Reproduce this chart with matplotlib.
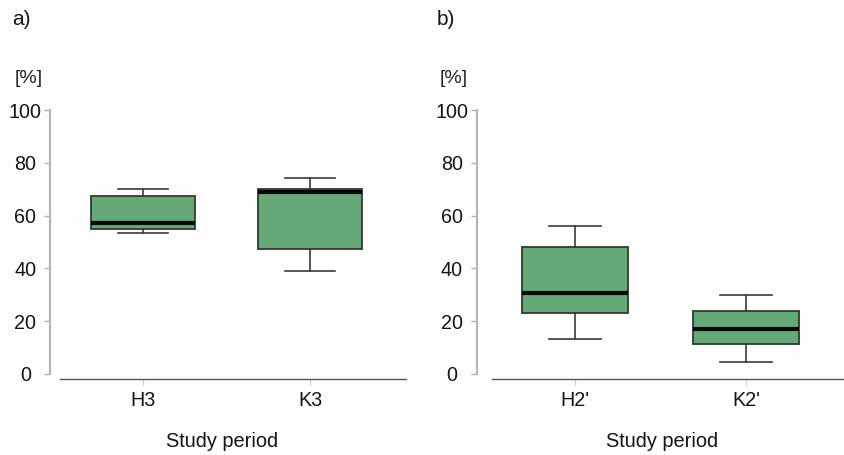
import matplotlib
matplotlib.use("Agg")
import matplotlib.pyplot as plt

plt.rcParams["font.family"] = ["Liberation Sans", "DejaVu Sans"]

# five-number summaries per study period: lower whisker, Q1, median, Q3, upper whisker
labels_a = ["H3", "K3"]
whislo_a = [53.3, 39.2]
q1_a = [54.9, 47.4]
med_a = [57.2, 69.0]
q3_a = [67.5, 70.2]
whishi_a = [70.2, 74.4]

labels_b = ["H2'", "K2'"]
whislo_b = [13.1, 4.6]
q1_b = [23.2, 11.2]
med_b = [30.6, 17.0]
q3_b = [48.2, 23.9]
whishi_b = [55.9, 30.0]

W, H = 845, 455
fig = plt.figure(figsize=(W / 100, H / 100), dpi=100)
fig.patch.set_facecolor("#fdfdfd")

box_fill = "#66a878"
edge = "#2f3a33"
txt = "#151515"


def panel(rect, xlim, xspine, labels, lo, q1, med, q3, hi, letter, letter_x, unit_x, title_x):
    ax = fig.add_axes(rect)
    ax.set_facecolor("#fdfdfd")
    stats = []
    for i in range(len(labels)):
        stats.append(dict(label=labels[i], whislo=lo[i], q1=q1[i], med=med[i],
                          q3=q3[i], whishi=hi[i], fliers=[]))
    ax.bxp(stats, positions=[1, 2], widths=0.62, patch_artist=True,
           showfliers=False,
           boxprops=dict(facecolor=box_fill, edgecolor=edge, linewidth=1.3),
           medianprops=dict(color="#050a06", linewidth=3),
           whiskerprops=dict(color="#3a3a3a", linewidth=1.2),
           capprops=dict(color="#3a3a3a", linewidth=1.2),
           capwidths=0.3)
    ax.set_xlim(*xlim)
    ax.set_ylim(-1.9, 100.5)
    for s in ["top", "right"]:
        ax.spines[s].set_visible(False)
    ax.spines["left"].set_bounds(0, 100)
    ax.spines["left"].set_color("#b4b4b4")
    ax.spines["left"].set_linewidth(1.5)
    ax.spines["bottom"].set_bounds(*xspine)
    ax.spines["bottom"].set_color("#555555")
    ax.spines["bottom"].set_linewidth(1.0)
    ax.set_yticks([0, 20, 40, 60, 80, 100])
    # y labels are centred under one another, not right-aligned
    ax.tick_params(axis="y", length=4, width=1, color="#b4b4b4", pad=13.8,
                   labelsize=14.2, labelcolor=txt)
    for lbl in ax.get_yticklabels():
        lbl.set_horizontalalignment("center")
    ax.tick_params(axis="x", length=4, width=0.8, color="#d0d0d0", pad=5,
                   labelsize=14.2, labelcolor=txt)
    fig.text(letter_x / W, 1 - 25 / H, letter, fontsize=15, va="baseline",
             ha="left", color=txt)
    fig.text(unit_x / W, 1 - 83 / H, "[%]", fontsize=14, va="baseline",
             ha="left", color="#222222")
    fig.text(title_x / W, 1 - 447 / H, "Study period", fontsize=14.4,
             va="baseline", ha="center", color=txt)
    return ax


# left panel: y spine at x=50px, x-axis at y=379px
panel([50 / W, 76 / H, 362 / W, 270.3 / H], (0.443, 2.61), (0.503, 2.575),
      labels_a, whislo_a, q1_a, med_a, q3_a, whishi_a, "a)", 12, 15, 222)
panel([476.7 / W, 76 / H, 368.3 / W, 270.3 / H], (0.424, 2.58), (0.512, 2.58),
      labels_b, whislo_b, q1_b, med_b, q3_b, whishi_b, "b)", 437, 440, 662)

fig.savefig("out.png", dpi=100, facecolor=fig.get_facecolor())
